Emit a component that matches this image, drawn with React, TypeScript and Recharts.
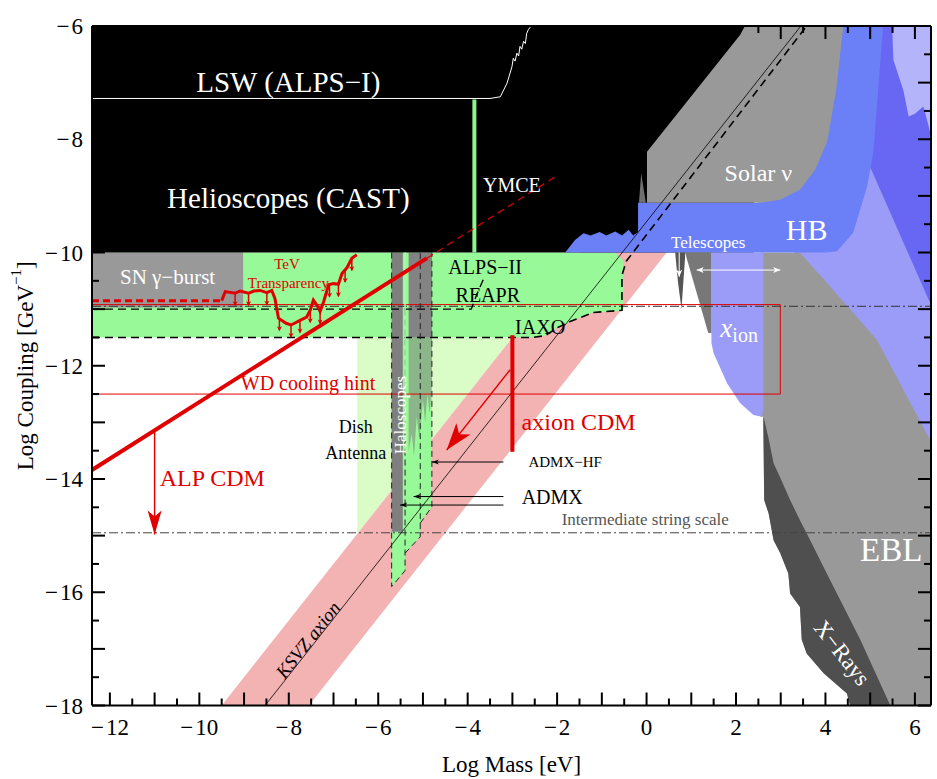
import React from "react";
import { ComposedChart, Area, Line, XAxis, YAxis, ReferenceDot } from "recharts";

const SERIF = "'Liberation Serif', 'Times New Roman', serif";
const RED = "#e00000";

// axis ticks (labels on even integers)
const X_TICKS = [-12, -11.5, -11, -10.5, -10, -9.5, -9, -8.5, -8, -7.5, -7, -6.5, -6, -5.5, -5, -4.5, -4, -3.5, -3, -2.5, -2, -1.5, -1, -0.5, 0, 0.5, 1, 1.5, 2, 2.5, 3, 3.5, 4, 4.5, 5, 5.5, 6];
const Y_TICKS = [-18, -17.5, -17, -16.5, -16, -15.5, -15, -14.5, -14, -13.5, -13, -12.5, -12, -11.5, -11, -10.5, -10, -9.5, -9, -8.5, -8, -7.5, -7, -6.5, -6];

// filled regions: x = log mass, r = [lower, upper] log coupling
const HELIOSCOPES = [{ x: -12.4, r: [-10, -6] }, { x: 2.4, r: [-10, -6] }];
const SN_BURST = [{ x: -12.4, r: [-10.97, -10] }, { x: -9.02, r: [-10.97, -10] }];
const DISH_ANTENNA = [{ x: -6.47, r: [-14.95, -11.5] }, { x: -6.45, r: [-14.95, -11.5] }, { x: -3.0, r: [-11.5, -11.5] }];
const KSVZ_BAND = [{ x: -9.5, r: [-18, -18] }, { x: -7.55, r: [-18, -16.05] }, { x: 0.45, r: [-10, -8.05] }];
const ALPS_IAXO = [
  { x: -12.4, r: [-11.5, -10] }, { x: -2.55, r: [-11.5, -10] }, { x: -2.27, r: [-11.47, -10] },
  { x: -2.0, r: [-11.33, -10] }, { x: -1.71, r: [-11.22, -10] }, { x: -1.19, r: [-11.06, -10] },
  { x: -0.7, r: [-11.04, -10] }, { x: -0.52, r: [-11.02, -10.15] },
];
const HALO_GREEN = [
  { x: -5.7, r: [-15.9, -10] }, { x: -5.4, r: [-15.62, -10] }, { x: -5.4, r: [-15.31, -10] },
  { x: -5.06, r: [-15.02, -10] }, { x: -5.06, r: [-14.78, -10] }, { x: -4.8, r: [-14.49, -10] },
];
const HALO_GRAY_A = [{ x: -5.7, r: [-14.93, -10] }, { x: -5.45, r: [-14.93, -10] }];
const HALO_GRAY_B = [{ x: -5.32, r: [-11.5, -10] }, { x: -4.8, r: [-11.5, -10] }];
const HALO_GRAY_B_LOW = [
  { x: -5.32, r: [-13.5, -11.5] }, { x: -5.25, r: [-13.2, -11.5] }, { x: -5.2, r: [-13.6, -11.5] },
  { x: -5.14, r: [-12.9, -11.5] }, { x: -5.08, r: [-13.3, -11.5] }, { x: -5.0, r: [-12.6, -11.5] },
  { x: -4.95, r: [-13.0, -11.5] }, { x: -4.9, r: [-12.5, -11.5] }, { x: -4.85, r: [-12.85, -11.5] },
  { x: -4.8, r: [-12.3, -11.5] },
];
const BLUE_LIGHT = [{ x: 3.3, r: [-10.3, -6] }, { x: 6.4, r: [-13.6, -6] }];
const BLUE_DARK = [{ x: 4.95, r: [-8.4, -6] }, { x: 6.4, r: [-11.0, -6] }];
const BLUE_PALE = [
  { x: 5.49, r: [-6, -6] }, { x: 5.52, r: [-6.6, -6] }, { x: 5.74, r: [-7.13, -6] }, { x: 5.86, r: [-7.6, -6] },
  { x: 6.0, r: [-7.55, -6] }, { x: 6.19, r: [-7.42, -6] }, { x: 6.25, r: [-7.6, -6] }, { x: 6.4, r: [-8.05, -6] },
];
const EBL = [
  { x: 2.55, r: [-12.9, -10] }, { x: 2.61, r: [-12.9, -10] }, { x: 2.63, r: [-14.37, -10] },
  { x: 2.73, r: [-14.61, -10] }, { x: 2.84, r: [-15.08, -10] }, { x: 2.99, r: [-15.31, -10] },
  { x: 3.17, r: [-15.67, -10] }, { x: 3.21, r: [-16.02, -10] }, { x: 3.43, r: [-16.26, -10] },
  { x: 3.47, r: [-16.84, -10.04] }, { x: 3.58, r: [-17.08, -10.14] }, { x: 3.96, r: [-17.43, -10.47] },
  { x: 4.48, r: [-17.79, -10.94] }, { x: 4.55, r: [-18, -11.0] }, { x: 5.15, r: [-18, -11.54] },
  { x: 6.4, r: [-18, -13.4] },
];
const XRAYS = [
  { x: 2.61, r: [-12.9, -12.9] }, { x: 2.63, r: [-14.37, -12.95] }, { x: 2.73, r: [-14.61, -13.29] },
  { x: 2.84, r: [-15.08, -13.72] }, { x: 2.99, r: [-15.31, -13.98] }, { x: 3.17, r: [-15.67, -14.3] },
  { x: 3.21, r: [-16.02, -14.37] }, { x: 3.43, r: [-16.26, -14.73] }, { x: 3.47, r: [-16.84, -14.79] },
  { x: 3.58, r: [-17.08, -14.96] }, { x: 3.96, r: [-17.43, -15.56] }, { x: 4.03, r: [-17.48, -15.67] },
  { x: 4.48, r: [-17.79, -16.37] }, { x: 4.55, r: [-18, -16.48] }, { x: 4.78, r: [-18, -16.84] },
  { x: 5.45, r: [-18, -18] },
];
const XION = [
  { x: 1.45, r: [-11.6, -10] }, { x: 1.5, r: [-11.78, -10] }, { x: 1.8, r: [-12.31, -10] },
  { x: 2.09, r: [-12.66, -10] }, { x: 2.39, r: [-12.87, -10] }, { x: 2.58, r: [-12.9, -10] },
  { x: 2.61, r: [-12.75, -10] },
];
const HB = [
  { x: -1.82, r: [-10, -10] }, { x: -1.6, r: [-10, -9.78] }, { x: -1.41, r: [-10, -9.66] },
  { x: -1.25, r: [-10, -9.7] }, { x: -1.05, r: [-10, -9.64] }, { x: -0.9, r: [-10, -9.7] },
  { x: -0.7, r: [-10, -9.63] }, { x: -0.55, r: [-10, -9.7] }, { x: -0.4, r: [-10, -9.6] },
  { x: -0.3, r: [-10, -9.7] }, { x: -0.19, r: [-10, -9.64] }, { x: -0.19, r: [-10, -9.12] },
  { x: 2.5, r: [-10, -9.12] }, { x: 2.5, r: [-10, -6] }, { x: 4.0, r: [-10, -6] },
  { x: 4.26, r: [-9.98, -6] }, { x: 4.62, r: [-9.65, -6] }, { x: 4.93, r: [-8.84, -6] },
  { x: 5.07, r: [-8.24, -6] }, { x: 5.29, r: [-6, -6] },
];
const SOLAR_NU = [
  { x: 0.01, r: [-9.12, -8.22] }, { x: 2.09, r: [-9.12, -6.16] }, { x: 2.2, r: [-9.12, -6] },
  { x: 2.54, r: [-9.12, -6] }, { x: 2.99, r: [-9.07, -6] }, { x: 3.43, r: [-8.89, -6] },
  { x: 3.77, r: [-8.54, -6] }, { x: 4.04, r: [-8.04, -6] }, { x: 4.24, r: [-7.13, -6] },
  { x: 4.4, r: [-6, -6] },
];
const SOLAR_SLIVER = [{ x: -0.17, r: [-9.12, -9.12] }, { x: -0.12, r: [-9.12, -8.6] }, { x: -0.07, r: [-9.12, -8.85] }, { x: -0.02, r: [-9.12, -9.1] }];
const TELE_SPIKE = [{ x: 0.64, r: [-10, -10] }, { x: 0.7, r: [-10.5, -10] }, { x: 0.78, r: [-11.0, -10] }, { x: 0.86, r: [-10.1, -10] }];
const TELE_WEDGE = [{ x: 0.86, r: [-10, -10] }, { x: 1.38, r: [-11.42, -10] }, { x: 1.45, r: [-11.42, -10] }];

// curves
const LSW_ALPS1 = [
  { x: -12.4, y: -7.28 }, { x: -3.5, y: -7.28 }, { x: -3.27, y: -7.25 }, { x: -3.12, y: -7.01 },
  { x: -3.01, y: -6.72 }, { x: -2.98, y: -6.57 }, { x: -2.94, y: -6.62 }, { x: -2.9, y: -6.48 },
  { x: -2.86, y: -6.53 }, { x: -2.83, y: -6.36 }, { x: -2.79, y: -6.41 }, { x: -2.75, y: -6.27 },
  { x: -2.71, y: -6.31 }, { x: -2.68, y: -6.13 }, { x: -2.64, y: -6.06 }, { x: -2.6, y: -6.02 },
];
const YMCE = [{ x: -3.85, y: -7.3 }, { x: -3.85, y: -10 }];
const ALP_CDM = [{ x: -12.4, y: -13.84 }, { x: -4.91, y: -10.1 }];
const ALP_CDM_EXT = [{ x: -4.91, y: -10.1 }, { x: -2.0, y: -8.64 }];
const ALP_CDM_ARROW = [{ x: -11.0, y: -13.14 }, { x: -11.0, y: -14.98 }];
const TEV_DASH = [{ x: -12.4, y: -10.85 }, { x: -9.5, y: -10.85 }];
const TEV_CURVE = [
  { x: -9.5, y: -10.85 }, { x: -9.42, y: -10.69 }, { x: -9.2, y: -10.72 }, { x: -9.09, y: -10.68 },
  { x: -8.9, y: -10.72 }, { x: -8.78, y: -10.68 }, { x: -8.64, y: -10.67 }, { x: -8.49, y: -10.71 },
  { x: -8.38, y: -10.67 }, { x: -8.31, y: -10.81 }, { x: -8.23, y: -11.16 }, { x: -8.06, y: -11.25 },
  { x: -7.95, y: -11.28 }, { x: -7.85, y: -11.24 }, { x: -7.75, y: -11.2 }, { x: -7.6, y: -11.14 },
  { x: -7.52, y: -11.02 }, { x: -7.45, y: -10.84 }, { x: -7.37, y: -10.93 }, { x: -7.3, y: -11.04 },
  { x: -7.22, y: -10.87 }, { x: -7.11, y: -10.57 }, { x: -7.0, y: -10.55 }, { x: -6.89, y: -10.56 },
  { x: -6.81, y: -10.37 }, { x: -6.7, y: -10.27 }, { x: -6.59, y: -10.1 }, { x: -6.48, y: -10.04 },
];
const TEV_ARROWS = [
  { x: -9.2, y: -10.72 }, { x: -8.9, y: -10.72 }, { x: -8.49, y: -10.71 }, { x: -8.21, y: -11.16 },
  { x: -7.95, y: -11.28 }, { x: -7.75, y: -11.2 }, { x: -7.52, y: -11.02 }, { x: -7.3, y: -11.04 },
  { x: -7.09, y: -10.57 }, { x: -6.89, y: -10.56 }, { x: -6.74, y: -10.31 }, { x: -6.59, y: -10.1 },
];
const WD_HINT = [{ x: -12.4, y: -10.92 }, { x: 2.99, y: -10.92 }, { x: 2.99, y: -12.5 }, { x: -12.4, y: -12.5 }];
const HINT_LINE = [{ x: -12.4, y: -10.95 }, { x: 6.4, y: -10.95 }];
const STRING_SCALE = [{ x: -12.4, y: -14.95 }, { x: 6.4, y: -14.95 }];
const ALPS2 = [{ x: -12.4, y: -11.0 }, { x: -3.92, y: -11.0 }, { x: -3.8, y: -10.75 }, { x: -3.62, y: -10.42 }];
const IAXO = [
  { x: -12.4, y: -11.5 }, { x: -2.55, y: -11.5 }, { x: -2.27, y: -11.47 }, { x: -2.0, y: -11.33 },
  { x: -1.71, y: -11.22 }, { x: -1.19, y: -11.06 }, { x: -0.55, y: -11.02 }, { x: -0.55, y: -10.4 },
  { x: -0.45, y: -10.15 }, { x: 3.58, y: -6 },
];
const KSVZ = [{ x: -8.53, y: -18 }, { x: 3.45, y: -6 }];
const HALO_EDGE_A = [{ x: -5.7, y: -10 }, { x: -5.7, y: -15.9 }, { x: -5.4, y: -15.62 }, { x: -5.4, y: -11.0 }];
const HALO_EDGE_B = [{ x: -5.4, y: -15.31 }, { x: -5.06, y: -15.02 }, { x: -5.06, y: -10 }];
const HALO_EDGE_C = [{ x: -5.06, y: -14.78 }, { x: -4.8, y: -14.49 }, { x: -4.8, y: -10 }];
const HALO_HF = [{ x: -5.4, y: -10 }, { x: -5.4, y: -13.2 }];
const AXION_CDM = [{ x: -3.0, y: -11.46 }, { x: -3.0, y: -13.52 }];
const AXION_CDM_ARROW = [{ x: -3.05, y: -12.07 }, { x: -4.47, y: -13.49 }];
const ADMX_HF_ARROW = [{ x: -3.2, y: -13.7 }, { x: -4.8, y: -13.7 }];
const ADMX_ARROW_1 = [{ x: -3.2, y: -14.31 }, { x: -5.21, y: -14.31 }];
const ADMX_ARROW_2 = [{ x: -3.2, y: -14.46 }, { x: -5.51, y: -14.46 }];
const TELE_RANGE = [{ x: 1.12, y: -10.31 }, { x: 2.99, y: -10.31 }];
const TELE_DOWN = [{ x: 0.73, y: -10.0 }, { x: 0.73, y: -10.43 }];

const tickLen = (v: number) => (Number.isInteger(v) ? 13 : 7);

function TickText({ v, ...rest }: any) {
  return (
    <text {...rest} fontFamily={SERIF} fontSize={23} fill="#000">
      {v < 0 ? (
        <>
          <tspan>{"\u2212"}</tspan>
          <tspan dx={2}>{-v}</tspan>
        </>
      ) : (
        `${v}`
      )}
    </text>
  );
}

function BottomTick(p: any) {
  const v = p.payload.value;
  return (
    <g>
      <line x1={p.x} x2={p.x} y1={p.y} y2={p.y - tickLen(v)} stroke="#000" strokeWidth={2} />
      {v % 2 === 0 && <TickText v={v} x={p.x} y={p.y + 29} textAnchor="middle" />}
    </g>
  );
}
function TopTick(p: any) {
  const v = p.payload.value;
  return <line x1={p.x} x2={p.x} y1={p.y} y2={p.y + tickLen(v)} stroke="#000" strokeWidth={2} />;
}
function LeftTick(p: any) {
  const v = p.payload.value;
  return (
    <g>
      <line x1={p.x} x2={p.x + tickLen(v)} y1={p.y} y2={p.y} stroke="#000" strokeWidth={2} />
      {v % 2 === 0 && <TickText v={v} x={p.x - 9} y={p.y + 8} textAnchor="end" />}
    </g>
  );
}
function RightTick(p: any) {
  const v = p.payload.value;
  return <line x1={p.x} x2={p.x - tickLen(v)} y1={p.y} y2={p.y} stroke="#000" strokeWidth={2} />;
}

function head(cx: number, cy: number, ux: number, uy: number, len: number, half: number, color: string, k: number) {
  const bx = cx - ux * len, by = cy - uy * len;
  const nx = cx - ux * len * 0.75, ny = cy - uy * len * 0.75;
  const pts = [[cx, cy], [bx - uy * half, by + ux * half], [nx, ny], [bx + uy * half, by - ux * half]];
  return <polygon key={k} points={pts.map((q) => q.join(",")).join(" ")} fill={color} />;
}

// arrowhead at the end (or both ends) of a two-point line
function arrowDot(line: { x: number; y: number }[], color: string, len: number, half: number, both = false) {
  return (props: any) => {
    const { cx, cy, index } = props;
    const pts = props.points;
    const dir = (a: number, b: number) => {
      let dx: number, dy: number;
      if (pts && pts[a] && pts[b] && pts[a].x != null) {
        dx = pts[b].x - pts[a].x;
        dy = pts[b].y - pts[a].y;
      } else {
        dx = (line[b].x - line[a].x) * 44.7;
        dy = -(line[b].y - line[a].y) * 56.6;
      }
      const d = Math.hypot(dx, dy) || 1;
      return [dx / d, dy / d];
    };
    const last = line.length - 1;
    const out: any[] = [];
    if (index === last) {
      const [ux, uy] = dir(last - 1, last);
      out.push(head(cx, cy, ux, uy, len, half, color, 1));
    }
    if (both && index === 0) {
      const [ux, uy] = dir(1, 0);
      out.push(head(cx, cy, ux, uy, len, half, color, 2));
    }
    return <g>{out}</g>;
  };
}

function tevArrow(props: any) {
  const { cx, cy } = props;
  return (
    <g>
      <line x1={cx} x2={cx} y1={cy} y2={cy + 12} stroke={RED} strokeWidth={1.5} />
      {head(cx, cy + 13, 0, 1, 5, 2.5, RED, 1)}
    </g>
  );
}

function note(content: React.ReactNode, size: number, color: string, extra: any = {}) {
  return (p: any) => (
    <text
      x={p.cx}
      y={p.cy}
      textAnchor="middle"
      dominantBaseline="central"
      fontFamily={SERIF}
      fontSize={size}
      fill={color}
      transform={extra.rotate ? `rotate(${extra.rotate} ${p.cx} ${p.cy})` : undefined}
      fontStyle={extra.italic ? "italic" : undefined}
    >
      {content}
    </text>
  );
}

export default function App() {
  const area = (data: any, fill: string, opacity = 1) => (
    <Area
      data={data}
      dataKey="r"
      type="linear"
      fill={fill}
      fillOpacity={opacity}
      stroke="none"
      dot={false}
      activeDot={false}
      isAnimationActive={false}
    />
  );
  const line = (data: any, stroke: string, width: number, dash?: string, dot: any = false) => (
    <Line
      data={data}
      dataKey="y"
      type="linear"
      stroke={stroke}
      strokeWidth={width}
      strokeDasharray={dash}
      dot={dot}
      activeDot={false}
      isAnimationActive={false}
    />
  );
  const label = (x: number, y: number, shape: any) => (
    <ReferenceDot x={x} y={y} r={0} shape={shape} ifOverflow="visible" />
  );

  return (
    <div style={{ position: "absolute", left: 0, top: 0, width: 937, height: 779, background: "#fff" }}>
      <ComposedChart width={937} height={779} margin={{ top: 0, right: 0, bottom: 0, left: 0 }}>
        {area(BLUE_LIGHT, "#9b9cf8")}
        {area(BLUE_DARK, "#6767f3")}
        {area(BLUE_PALE, "#b4b4fb")}
        {area(DISH_ANTENNA, "#dafcc6")}
        {area(KSVZ_BAND, "#f3b3b3")}
        {area(ALPS_IAXO, "#98f998")}
        {area(SN_BURST, "#999999")}
        {area(HALO_GREEN, "#98f998")}
        {area(HALO_GRAY_A, "#7f7f7f")}
        {area(HALO_GRAY_B, "#838383")}
        {area(HALO_GRAY_B_LOW, "#7f7f7f", 0.55)}
        {area(HELIOSCOPES, "#000000")}
        {area(EBL, "#999999")}
        {area(XRAYS, "#4f4f4f")}
        {area(XION, "#9b9cf8")}
        {area(HB, "#6b7ff7")}
        {area(SOLAR_NU, "#999999")}
        {area(SOLAR_SLIVER, "#6f6f6f")}
        {area(TELE_SPIKE, "#555555")}
        {area(TELE_WEDGE, "#787878")}

        {line(WD_HINT, RED, 1)}
        {line(HINT_LINE, "#333", 1, "9 3 2 3")}
        {line(STRING_SCALE, "#444", 1, "9 3 2 3")}
        {line(KSVZ, "#000", 0.8)}
        {line(IAXO, "#000", 1.6, "8 5")}
        {line(ALPS2, "#000", 1.4, "8 5")}
        {line(HALO_EDGE_A, "#222", 1, "6 4")}
        {line(HALO_EDGE_B, "#222", 1, "6 4")}
        {line(HALO_EDGE_C, "#222", 1, "6 4")}
        {line(HALO_HF, "#b0f5b0", 1.5)}
        {line(LSW_ALPS1, "#ffffff", 1)}
        {line(YMCE, "#8ef58e", 4)}
        {line(ALP_CDM, RED, 4)}
        {line(ALP_CDM_EXT, RED, 1.2, "7 5")}
        {line(ALP_CDM_ARROW, RED, 1.5, undefined, arrowDot(ALP_CDM_ARROW, RED, 24, 7))}
        {line(TEV_DASH, RED, 3, "7 4")}
        {line(TEV_CURVE, RED, 3)}
        {line(TEV_ARROWS, "none", 0, undefined, tevArrow)}
        {line(AXION_CDM, RED, 4)}
        {line(AXION_CDM_ARROW, RED, 1.5, undefined, arrowDot(AXION_CDM_ARROW, RED, 27, 9))}
        {line(ADMX_HF_ARROW, "#000", 1, undefined, arrowDot(ADMX_HF_ARROW, "#000", 7, 2.5))}
        {line(ADMX_ARROW_1, "#000", 1, undefined, arrowDot(ADMX_ARROW_1, "#000", 7, 2.5))}
        {line(ADMX_ARROW_2, "#000", 1, undefined, arrowDot(ADMX_ARROW_2, "#000", 7, 2.5))}
        {line(TELE_RANGE, "#fff", 1, undefined, arrowDot(TELE_RANGE, "#fff", 7, 3, true))}
        {line(TELE_DOWN, "#fff", 1, undefined, arrowDot(TELE_DOWN, "#fff", 7, 3))}

        {label(-8.01, -6.99, note("LSW (ALPS\u2212I)", 29, "#fff"))}
        {label(-8.01, -9.04, note("Helioscopes (CAST)", 29, "#fff"))}
        {label(-3.01, -8.81, note("YMCE", 20, "#fff"))}
        {label(-10.71, -10.43, note("SN \u03b3\u2212burst", 21, "#fff"))}
        {label(-8.04, -10.2, note("TeV", 15, RED))}
        {label(-8.01, -10.54, note("Transparency", 15, RED))}
        {label(-3.61, -10.25, note("ALPS\u2212II", 20, "#000"))}
        {label(-3.55, -10.75, note("REAPR", 20, "#000"))}
        {label(-2.38, -11.31, note("IAXO", 20, "#000"))}
        {label(-7.57, -12.3, note("WD cooling hint", 20, RED))}
        {label(-1.52, -12.99, note("axion CDM", 24, RED))}
        {label(-9.71, -13.99, note("ALP CDM", 24, RED))}
        {label(-6.5, -13.09, note("Dish", 18, "#000"))}
        {label(-6.5, -13.54, note("Antenna", 18, "#000"))}
        {label(-5.51, -12.87, note("Haloscopes", 17, "#fff", { rotate: -90 }))}
        {label(-1.82, -13.7, note("ADMX\u2212HF", 15, "#000"))}
        {label(-2.11, -14.31, note("ADMX", 20, "#000"))}
        {label(-0.03, -14.72, note("Intermediate string scale", 17, "#555"))}
        {label(2.5, -8.6, note("Solar \u03bd", 24, "#fff"))}
        {label(3.58, -9.6, note("HB", 30, "#fff"))}
        {label(1.38, -9.82, note("Telescopes", 17, "#fff"))}
        {label(2.07, -11.33, note(<><tspan fontStyle="italic" fontSize={27}>x</tspan><tspan fontSize={20} dy={7}>ion</tspan></>, 24, "#fff"))}
        {label(5.47, -15.25, note("EBL", 33, "#fff"))}
        {label(4.37, -17.07, note("X\u2212Rays", 23, "#fff", { rotate: 52 }))}
        {label(-7.57, -16.84, note("KSVZ axion", 19, "#000", { rotate: -51.7, italic: true }))}

        <XAxis
          type="number"
          dataKey="x"
          domain={[-12.4, 6.36]}
          allowDataOverflow
          ticks={X_TICKS}
          interval={0}
          height={73.5}
          tickSize={0}
          tickMargin={0}
          tickLine={false}
          axisLine={{ stroke: "#000", strokeWidth: 2 }}
          tick={(p: any) => <BottomTick {...p} />}
          label={{
            content: (p: any) => {
              const vb = p.viewBox || { x: 92, y: 705.5, width: 839, height: 73.5 };
              return (
                <text x={vb.x + vb.width / 2} y={vb.y + 66} textAnchor="middle" fontFamily={SERIF} fontSize={23} fill="#000">
                  Log Mass [eV]
                </text>
              );
            },
          }}
        />
        <XAxis
          xAxisId="top"
          orientation="top"
          type="number"
          dataKey="x"
          domain={[-12.4, 6.36]}
          allowDataOverflow
          ticks={X_TICKS}
          interval={0}
          height={26}
          tickSize={0}
          tickMargin={0}
          tickLine={false}
          axisLine={{ stroke: "#000", strokeWidth: 2 }}
          tick={(p: any) => <TopTick {...p} />}
        />
        <YAxis
          type="number"
          domain={[-18, -6]}
          allowDataOverflow
          ticks={Y_TICKS}
          interval={0}
          width={92}
          tickSize={0}
          tickMargin={0}
          tickLine={false}
          axisLine={{ stroke: "#000", strokeWidth: 2 }}
          tick={(p: any) => <LeftTick {...p} />}
          label={{
            content: (p: any) => {
              const vb = p.viewBox || { x: 0, y: 26, width: 92, height: 679.5 };
              const cx = vb.x + 25;
              const cy = vb.y + vb.height / 2;
              return (
                <text x={cx} y={cy} textAnchor="middle" dominantBaseline="central" fontFamily={SERIF} fontSize={23} fill="#000" transform={`rotate(-90 ${cx} ${cy})`}>
                  Log Coupling [GeV<tspan fontSize={15} dy={-9}>{"\u22121"}</tspan><tspan dy={9}>]</tspan>
                </text>
              );
            },
          }}
        />
        <YAxis
          yAxisId="right"
          orientation="right"
          type="number"
          domain={[-18, -6]}
          allowDataOverflow
          ticks={Y_TICKS}
          interval={0}
          width={6}
          tickSize={0}
          tickMargin={0}
          tickLine={false}
          axisLine={{ stroke: "#000", strokeWidth: 2 }}
          tick={(p: any) => <RightTick {...p} />}
        />
      </ComposedChart>
    </div>
  );
}
